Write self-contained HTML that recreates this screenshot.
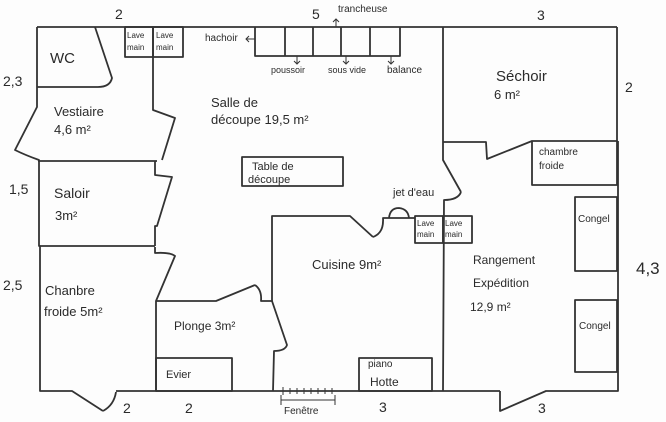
<!DOCTYPE html>
<html><head><meta charset="utf-8"><style>
html,body{margin:0;padding:0;background:#fff;}
svg{display:block;}
text{font-family:"Liberation Sans",sans-serif;fill:#2a2a2a;}
</style></head><body>
<svg width="666" height="422" viewBox="0 0 666 422" xmlns="http://www.w3.org/2000/svg">
<rect width="666" height="422" fill="#fdfdfd"/>
<g fill="none" stroke="#333" stroke-width="1.8" stroke-linejoin="round">
<line x1="37" y1="27" x2="617" y2="27"/>
<path d="M37,27 L37,107 L15,150 Q25,155 39,160 L39,246 L40,246 L40,391 L72,391 L103,411"/>
<path d="M103,411 Q114,405 116,392"/>
<line x1="116" y1="391" x2="500" y2="391"/>
<polyline points="500,391 500,411 546,391 618,391 618,141"/>
<line x1="617" y1="27" x2="617" y2="141"/>
<path d="M95,27 L112,78 Q110,87 98,87 L37,87"/>
<rect x="125" y="27" width="28" height="30"/>
<rect x="153" y="27" width="30" height="30"/>
<polyline points="153,57 153,110 175,118 162,160"/>
<line x1="38" y1="161" x2="157" y2="161"/>
<polyline points="155,161 155,175 172,177 157,226 155,226 155,246"/>
<line x1="39" y1="246" x2="155" y2="246"/>
<path d="M155,247 L155,253 Q170,252 175,256 L156,301 L156,391"/>
<polyline points="156,301 216,301 255,285"/>
<path d="M255,285 Q262,290 261,301 L272,301 L287,345 Q285,351 274,351 L273,391"/>
<rect x="156" y="358" width="76" height="33"/>
<polyline points="272,301 272,216 350,216 373,237"/>
<path d="M373,237 Q384,233 383,218 L415,218"/>
<path d="M389,218 Q390,208 399,208 Q408,209 409,218"/>
<rect x="415" y="216" width="28" height="27"/>
<rect x="443" y="216" width="29" height="27"/>
<rect x="359" y="358" width="73" height="33"/>
<polyline points="443,27 443,143 443,160 461,192"/>
<path d="M461,192 Q458,200 444,200 L443,391"/>
<polyline points="443,142 486,142 487,159 532,141"/>
<rect x="532" y="141" width="85" height="44"/>
<rect x="575" y="197" width="42" height="74"/>
<rect x="575" y="300" width="42" height="72"/>
<polyline points="255,27 255,56 400,56 400,27"/>
<line x1="285" y1="27" x2="285" y2="56"/>
<line x1="313" y1="27" x2="313" y2="56"/>
<line x1="341" y1="27" x2="341" y2="56"/>
<line x1="370" y1="27" x2="370" y2="56"/>
<rect x="242" y="157" width="101" height="29"/>
</g>
<g fill="none" stroke="#333" stroke-width="1">
<line x1="255" y1="39" x2="246" y2="39"/><polyline points="249,36 246,39 249,42"/>
<line x1="297" y1="56" x2="297" y2="64"/><polyline points="294,61 297,64 300,61"/>
<line x1="346" y1="56" x2="346" y2="64"/><polyline points="343,61 346,64 349,61"/>
<line x1="391" y1="56" x2="391" y2="64"/><polyline points="388,61 391,64 394,61"/>
<line x1="336" y1="27" x2="336" y2="19"/><polyline points="333,22 336,19 339,22"/>
<line x1="281" y1="400" x2="335" y2="400"/>
<line x1="281" y1="395" x2="281" y2="405"/><line x1="335" y1="395" x2="335" y2="405"/>
<line x1="283" y1="387" x2="283" y2="395"/><line x1="290" y1="388" x2="290" y2="394"/>
<line x1="297" y1="388" x2="297" y2="394"/><line x1="304" y1="388" x2="304" y2="394"/>
<line x1="311" y1="388" x2="311" y2="394"/><line x1="318" y1="388" x2="318" y2="394"/>
<line x1="325" y1="388" x2="325" y2="394"/><line x1="332" y1="388" x2="332" y2="394"/>
</g>
<g font-size="14">
<text x="115" y="19">2</text><text x="312" y="19">5</text><text x="537" y="20">3</text>
<text x="625" y="92">2</text><text x="636" y="274" font-size="17">4,3</text>
<text x="3" y="86">2,3</text><text x="9" y="194">1,5</text><text x="3" y="290">2,5</text>
<text x="123" y="413">2</text><text x="185" y="413">2</text><text x="379" y="412">3</text><text x="538" y="413">3</text>
<text x="50" y="63" font-size="15">WC</text>
<text x="54" y="116" font-size="13">Vestiaire</text><text x="54" y="134" font-size="13">4,6 m²</text>
<text x="54" y="198" font-size="14">Saloir</text><text x="55" y="220" font-size="13">3m²</text>
<text x="45" y="295" font-size="13">Chanbre</text><text x="44" y="316" font-size="13">froide 5m²</text>
<text x="174" y="330" font-size="12">Plonge 3m²</text>
<text x="166" y="378" font-size="11">Evier</text>
<text x="211" y="107" font-size="13">Salle de</text><text x="211" y="124" font-size="13">découpe 19,5 m²</text>
<text x="252" y="170" font-size="11">Table de</text><text x="248" y="183" font-size="11">découpe</text>
<text x="496" y="81" font-size="15">Séchoir</text><text x="494" y="99" font-size="13">6 m²</text>
<text x="539" y="155" font-size="10">chambre</text><text x="539" y="169" font-size="10">froide</text>
<text x="578" y="222" font-size="10">Congel</text><text x="579" y="329" font-size="10">Congel</text>
<text x="312" y="269" font-size="13">Cuisine 9m²</text>
<text x="473" y="264" font-size="12">Rangement</text><text x="473" y="287" font-size="12">Expédition</text><text x="470" y="311" font-size="12">12,9 m²</text>
<text x="368" y="367" font-size="10">piano</text><text x="370" y="386" font-size="12">Hotte</text>
<text x="284" y="414" font-size="10">Fenêtre</text>
<text x="393" y="196" font-size="11">jet d'eau</text>
<text x="205" y="41" font-size="10">hachoir</text>
<text x="338" y="12" font-size="10">trancheuse</text>
<text x="271" y="73" font-size="9">poussoir</text><text x="328" y="73" font-size="9">sous vide</text><text x="387" y="73" font-size="10">balance</text>
<g font-size="8"><text x="127" y="38">Lave</text><text x="127" y="50">main</text><text x="156" y="38">Lave</text><text x="156" y="50">main</text>
<text x="417" y="226">Lave</text><text x="417" y="237">main</text><text x="445" y="226">Lave</text><text x="445" y="237">main</text></g>
</g>
</svg>
</body></html>
